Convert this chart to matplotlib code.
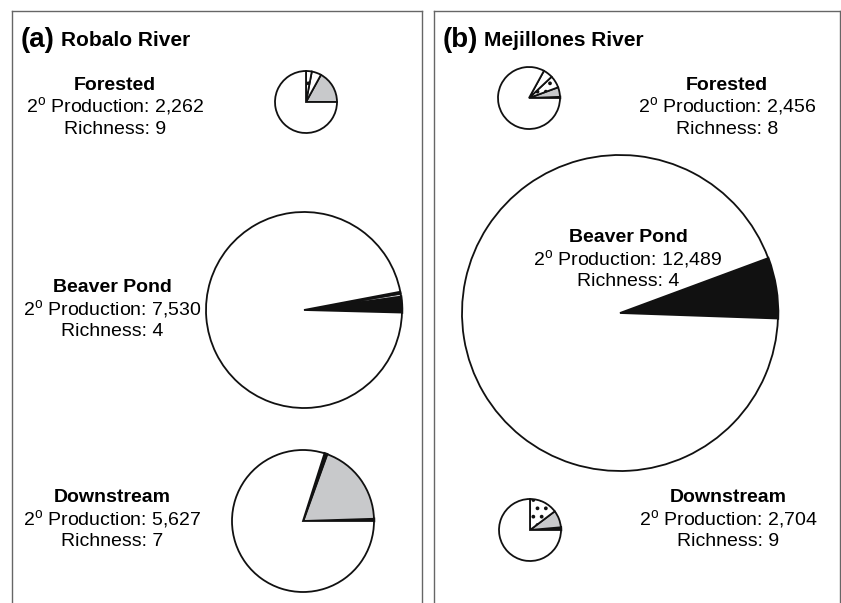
import matplotlib
matplotlib.use("Agg")
import matplotlib.pyplot as plt
from matplotlib.lines import Line2D

plt.rcParams['font.family'] = ['Liberation Sans', 'DejaVu Sans']
plt.rcParams['mathtext.fontset'] = 'custom'
plt.rcParams['mathtext.rm'] = 'Liberation Sans'
plt.rcParams['hatch.color'] = '#888888'
plt.rcParams['hatch.linewidth'] = 1.5

W, H = 841, 603

# ---- data (percent of secondary production by group, counter-clockwise from 0 deg) ----
panels = ["(a)", "(b)"]
rivers = ["Robalo River", "Mejillones River"]
habitats = ["Forested", "Beaver Pond", "Downstream"]

robalo_production = [2262, 7530, 5627]
robalo_richness = [9, 4, 7]
mejillones_production = [2456, 12489, 2704]
mejillones_richness = [8, 4, 9]

# slice kinds: k=black, g=gray, d=dotted, w=white
robalo_forested = [17, 5, 3, 75]
robalo_forested_kind = ['g', 'w', 'd', 'w']
robalo_beaver = [2.6, 0.5, 0.3, 96.6]
robalo_beaver_kind = ['k', 'g', 'w', 'w']
robalo_down = [0.5, 19, 0.6, 79.9]
robalo_down_kind = ['k', 'g', 'k', 'w']

mej_forested = [0.6, 5, 6.4, 5, 83]
mej_forested_kind = ['k', 'g', 'd', 'w', 'w']
mej_beaver = [6.2, 93.8]
mej_beaver_kind = ['k', 'w']
mej_down = [1.4, 8.9, 14.7, 75]
mej_down_kind = ['k', 'g', 'd', 'w']

colors = {'k': '#111111', 'g': '#c8c9cb', 'd': 'white', 'w': 'white'}

fig = plt.figure(figsize=(W / 100, H / 100), dpi=100)
ax = fig.add_axes([0, 0, 1, 1])


def Y(y):
    return H - y


def draw_pie(vals, kinds, cx, cy, r, start=0):
    wedges, _ = ax.pie(vals, colors=[colors[k] for k in kinds], center=(cx, Y(cy)),
                       radius=r, startangle=start, counterclock=True,
                       wedgeprops=dict(edgecolor='#111111', linewidth=1.3))
    for w_, k in zip(wedges, kinds):
        if k == 'd':
            w_.set_hatch('..')
        if k == 'k':
            w_.set_linewidth(1.8)


# pies
draw_pie(robalo_forested, robalo_forested_kind, 306, 102, 31)
draw_pie(robalo_beaver, robalo_beaver_kind, 304, 310, 98, start=-1.5)
draw_pie(robalo_down, robalo_down_kind, 303, 521, 71)
draw_pie(mej_forested, mej_forested_kind, 529, 98, 31)
draw_pie(mej_beaver, mej_beaver_kind, 620, 313, 158, start=-2)
draw_pie(mej_down, mej_down_kind, 530, 530, 31)

ax.set_xlim(0, W)
ax.set_ylim(0, H)
ax.set_aspect('auto')
ax.axis('off')

# panel frames
fc = '#666666'
for x0, x1 in [(12, 422), (434, 840)]:
    ax.add_line(Line2D([x0, x0], [Y(11), Y(H)], color=fc, lw=1.0))
    ax.add_line(Line2D([x1, x1], [Y(11), Y(H)], color=fc, lw=1.0))
    ax.add_line(Line2D([x0, x1], [Y(11), Y(11)], color=fc, lw=1.0))

# titles
for px, lab, riv in [(21, panels[0], rivers[0]), (443, panels[1], rivers[1])]:
    t = ax.text(px, Y(40), lab, fontsize=20, fontweight='bold', va='center', ha='left')
    fig.canvas.draw()
    bb = t.get_window_extent(renderer=fig.canvas.get_renderer())
    ax.text(bb.x1 + 6, Y(41), riv, fontsize=15, fontweight='bold', va='center', ha='left')


def label(cx, y0, name, prod, rich):
    ax.text(cx, Y(y0), name, fontsize=14, fontweight='bold', ha='center', va='center')
    ax.text(cx, Y(y0 + 22), r"2$^{\mathrm{o}}$ Production: " + f"{prod:,}",
            fontsize=14, ha='center', va='center')
    ax.text(cx, Y(y0 + 44), f"Richness: {rich}", fontsize=14, ha='center', va='center')


label(115, 85, habitats[0], robalo_production[0], robalo_richness[0])
label(112, 288, habitats[1], robalo_production[1], robalo_richness[1])
label(112, 498, habitats[2], robalo_production[2], robalo_richness[2])
label(727, 85, habitats[0], mejillones_production[0], mejillones_richness[0])
label(628, 238, habitats[1], mejillones_production[1], mejillones_richness[1])
label(728, 498, habitats[2], mejillones_production[2], mejillones_richness[2])

fig.savefig("out.png", dpi=100)
